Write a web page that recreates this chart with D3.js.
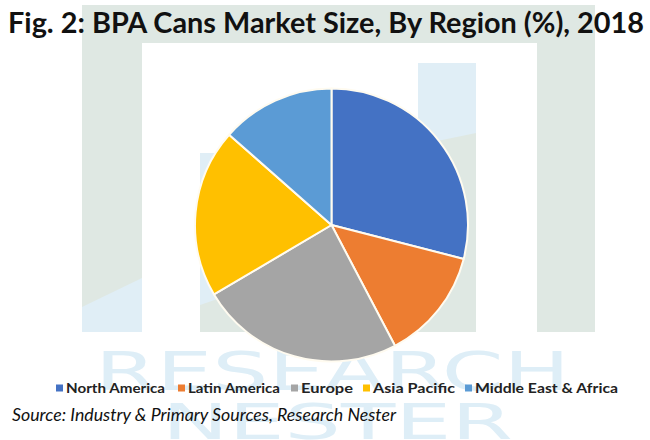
<!DOCTYPE html>
<html><head><meta charset="utf-8">
<script src="https://cdn.jsdelivr.net/npm/d3@7"></script>
<style>html,body{margin:0;padding:0;background:#fff;}svg{display:block;}</style>
</head><body>
<script>
const categories = ["North America", "Latin America", "Europe", "Asia Pacific", "Middle East & Africa"];
const values = [29.0, 13.3, 24.2, 20.0, 13.5];
const colors = ["#4472C4", "#ED7D31", "#A5A5A5", "#FFC000", "#5B9BD5"];
const titleText = "Fig. 2: BPA Cans Market Size, By Region (%), 2018";
const sourceText = "Source: Industry & Primary Sources, Research Nester";

const W = 650, H = 440;
const svg = d3.select("body").append("svg").attr("width", W).attr("height", H);
svg.append("rect").attr("width", W).attr("height", H).attr("fill", "#fff");

// watermark background
const wm = svg.append("g");
const green = "#dfe8e3", blue = "#e0eef6";
wm.append("path").attr("fill", green)
  .attr("d", "M82,5 H595 V332 H537 V43 H142 V332 H82 Z");
wm.append("path").attr("fill", blue).attr("d", "M82,307 L142,278 V332 H82 Z");
wm.append("rect").attr("x", 418).attr("y", 63).attr("width", 58).attr("height", 269).attr("fill", green);
wm.append("path").attr("fill", blue).attr("d", "M418,63 H476 V133 L418,145 Z");
wm.append("rect").attr("x", 200).attr("y", 153).attr("width", 58).attr("height", 179).attr("fill", blue);
wm.append("path").attr("fill", green).attr("d", "M200,305 L258,285 V332 H200 Z");
wm.append("text").attr("x", 95).attr("y", 390).attr("textLength", 475).attr("lengthAdjust", "spacingAndGlyphs")
  .attr("font-family", "DejaVu Sans").attr("font-size", 54)
  .attr("fill", "#deeef7").text("RESEARCH");
wm.append("text").attr("x", 162).attr("y", 439).attr("textLength", 351).attr("lengthAdjust", "spacingAndGlyphs")
  .attr("font-family", "DejaVu Sans").attr("font-size", 50)
  .attr("fill", "#deeef7").text("NESTER");

// title
svg.append("text").attr("x", 8).attr("y", 33).attr("textLength", 636).attr("lengthAdjust", "spacingAndGlyphs")
  .attr("font-family", "Lato").attr("font-weight", "bold").attr("font-size", 28).attr("fill", "#111")
  .text(titleText);

// pie
const cx = 331.5, cy = 225, r = 136.5;
const pie = d3.pie().sort(null).value(d => d.v);
const data = categories.map((c, i) => ({ c, v: values[i], col: colors[i] }));
const arc = d3.arc().innerRadius(0).outerRadius(r);
svg.append("g").attr("transform", `translate(${cx},${cy})`)
  .selectAll("path").data(pie(data)).join("path")
  .attr("d", arc).attr("fill", d => d.data.col)
  .attr("stroke", "#fffbf0").attr("stroke-width", 2).attr("stroke-linejoin", "round");

// legend
const legX = [56, 178, 291, 363, 465];
const legLen = [99, 92, 52, 82, 143];
const lg = svg.append("g");
data.forEach((d, i) => {
  lg.append("rect").attr("x", legX[i]).attr("y", 384.5).attr("width", 7).attr("height", 7).attr("fill", d.col);
  lg.append("text").attr("x", legX[i] + 10).attr("y", 393).attr("textLength", legLen[i]).attr("lengthAdjust", "spacingAndGlyphs")
    .attr("font-family", "Lato").attr("font-weight", "bold").attr("font-size", 14).attr("fill", "#222").text(d.c);
});

// source
svg.append("text").attr("x", 12).attr("y", 421).attr("textLength", 384).attr("lengthAdjust", "spacingAndGlyphs")
  .attr("font-family", "Lato").attr("font-style", "italic").attr("font-size", 17).attr("fill", "#111")
  .text(sourceText);
</script>
</body></html>
